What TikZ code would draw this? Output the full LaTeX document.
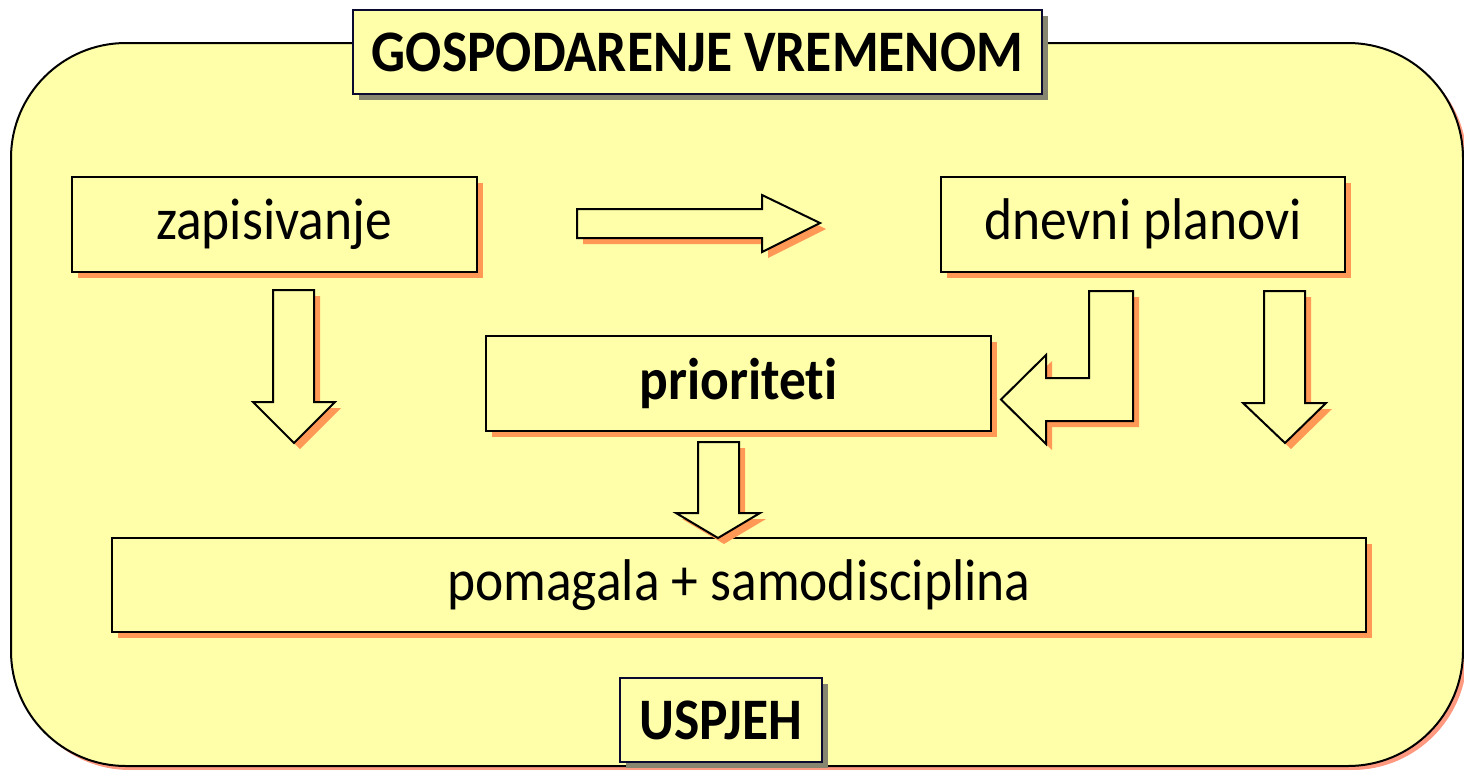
\documentclass[tikz,border=0pt]{standalone}
\usepackage{fontspec}
\setmainfont{Carlito}[Ligatures=NoCommon]
\usetikzlibrary{shadows}
\definecolor{fillyel}{HTML}{FFFFAA}
\definecolor{shorange}{HTML}{FF9955}
\definecolor{shpink}{HTML}{FF9980}
\definecolor{shgray}{HTML}{858570}
\definecolor{navy}{HTML}{0A0A30}
\newcommand{\tallt}[1]{\scalebox{1}[1.1]{#1}}
\begin{document}
\begin{tikzpicture}[x=1pt,y=-1pt,
  oshadow/.style={drop shadow={shadow xshift=6pt,shadow yshift=-6pt,fill=shorange,opacity=1}},
  gshadow/.style={drop shadow={shadow xshift=6pt,shadow yshift=-6pt,fill=shgray,opacity=1}},
  boxnode/.style={draw=black,line width=2pt,fill=fillyel,oshadow,inner sep=0pt,
     font=\fontsize{53.5}{60}\selectfont},
  titlenode/.style={draw=navy,line width=2pt,fill=fillyel,gshadow,inner sep=0pt,
     font=\fontsize{53.5}{60}\selectfont\bfseries},
  blockarrow/.style={draw=black,line width=2pt,fill=fillyel,oshadow,line join=miter}]
\useasboundingbox (0,0) rectangle (1464,769);
% outer frame
\path[draw=black,line width=2pt,fill=fillyel,rounded corners=115pt,
  drop shadow={shadow xshift=4pt,shadow yshift=-4pt,fill=shpink,opacity=1}]
  (11,43) rectangle (1463,766);
% title
\node[titlenode,minimum width=689pt,minimum height=84pt] (title) at (697.5,52) {\tallt{GOSPODARENJE VREMENOM}};
% boxes
\node[boxnode,minimum width=405pt,minimum height=95pt] (zap) at (274,224) {\tallt{zapisivanje}};
\node[boxnode,minimum width=404pt,minimum height=95pt] (dnev) at (1143,224) {\tallt{dnevni planovi}};
\node[boxnode,minimum width=505pt,minimum height=95pt,font=\fontsize{53.5}{60}\selectfont\bfseries] (prio) at (738.5,383.5) {\tallt{prioriteti}};
\node[boxnode,minimum width=1254pt,minimum height=94pt] (pom) at (739,585) {\tallt{pomagala + samodisciplina}};
\node[titlenode,minimum width=202pt,minimum height=84pt] (usp) at (721,720) {\tallt{USPJEH}};
% block arrows
\draw[blockarrow] (577,209) -- (762,209) -- (762,195) -- (820,223) -- (762,252) -- (762,238) -- (577,238) -- cycle;
\draw[blockarrow] (273,290) -- (314,290) -- (314,402) -- (335,402) -- (294,443) -- (253,402) -- (273,402) -- cycle;
\draw[blockarrow] (1264,291) -- (1305,291) -- (1305,403) -- (1326,403) -- (1285,443) -- (1243,403) -- (1264,403) -- cycle;
\draw[blockarrow] (698,442) -- (739,442) -- (739,513) -- (760,513) -- (718,538) -- (676,513) -- (698,513) -- cycle;
\draw[blockarrow] (1133,291) -- (1133,421) -- (1046,421) -- (1046,444) -- (1001,399.5) -- (1046,355) -- (1046,378) -- (1089,378) -- (1089,291) -- cycle;
\end{tikzpicture}
\end{document}
